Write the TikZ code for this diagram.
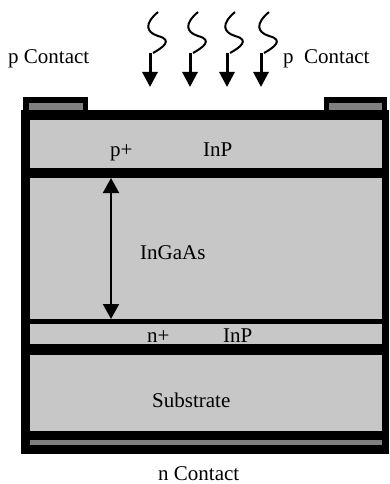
\documentclass[tikz,border=0pt]{standalone}
\usepackage{xcolor}
\usepackage{fontspec}
\setmainfont{Liberation Serif}
\usetikzlibrary{arrows.meta,positioning}
\definecolor{layergray}{gray}{0.78}
\definecolor{metalgray}{gray}{0.5}

\begin{document}
\begin{tikzpicture}[x=1pt, y=-1pt,
    layer/.style={fill=layergray, inner sep=0pt, anchor=north west},
    metal/.style={fill=metalgray, inner sep=0pt, anchor=north west},
    lbl/.style={font=\fontsize{21}{24}\selectfont, inner sep=0pt, anchor=base west},
    ray/.style={line width=3pt, -{Triangle[width=15pt,length=15pt]}},
    wave/.style={line width=2pt},
    thk/.style={line width=2pt, {Triangle[width=16pt,length=15pt]}-{Triangle[width=16pt,length=15pt]}}]
    \useasboundingbox (0,0) rectangle (389,484);
    \fill (21,110) rectangle (389,454);
    \fill (23,97) rectangle (88,110);
    \fill (324,97) rectangle (387,110);
    \node (PL) [metal, minimum width=54pt, minimum height=7pt] at (29,103) {};
    \node (PR) [metal, minimum width=53pt, minimum height=7pt] at (329,103) {};
    \node (P) [layer, minimum width=352pt, minimum height=48pt] at (30,120) {};
    \node (I) [layer, minimum width=352pt, minimum height=141pt] at (30,178) {};
    \node (N) [layer, minimum width=352pt, minimum height=20pt] at (30,324) {};
    \node (S) [layer, minimum width=352pt, minimum height=76pt] at (30,355) {};
    \node (NC) [metal, minimum width=352pt, minimum height=5pt] at (30,440) {};
    \node (PLt) [lbl] at (8,64) {p Contact};
    \node (PRt) [lbl] at (283,64) {p\ \ Contact};
    \node (Pt1) [lbl] at (110,156) {p+};
    \node (Pt2) [lbl] at (203,156) {InP};
    \node (It) [lbl] at (140,259) {InGaAs};
    \node (Nt1) [lbl] at (147,342) {n+};
    \node (Nt2) [lbl] at (223,342) {InP};
    \node (St) [lbl] at (152,407) {Substrate};
    \node (NCt) [lbl] at (158,480) {n Contact};
    \coordinate (T) at (111,178);
    \coordinate (B) at (111,319);
    \draw[thk] (T) -- (B);
    \foreach \x [count=\i] in {150,190,227,261} {
      \coordinate (W\i) at (\x+8,12);
      \coordinate (R\i) at (\x,53);
      \coordinate (H\i) at (\x,87);
      \draw[wave] (W\i) .. controls (\x-6,24) and (\x-4,32) .. (\x+8,36)
        .. controls (\x+24,40) and (\x+12,48) .. (\x+3,53);
      \draw[ray] (R\i) -- (H\i);
    }
\end{tikzpicture}
\end{document}
